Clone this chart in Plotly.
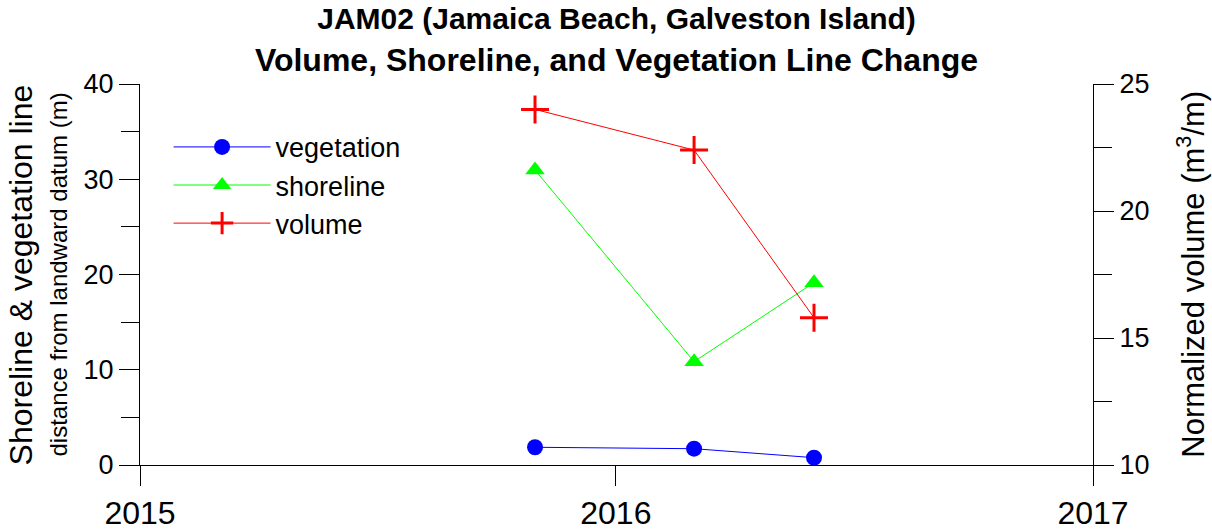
import plotly.graph_objects as go

# survey dates and measured values
dates = ["2015-10-31", "2016-03-01", "2016-06-01"]
vegetation = [1.86, 1.71, 0.77]
shoreline = [30.97, 10.85, 19.14]
volume = [24.0, 22.4, 15.8]

year_ticks = ["2015-01-01", "2016-01-01", "2017-01-01"]
year_labels = ["2015", "2016", "2017"]

FONT = "Liberation Sans, Arial, sans-serif"

fig = go.Figure()

fig.add_trace(
    go.Scatter(
        x=dates,
        y=vegetation,
        name="vegetation",
        mode="lines+markers",
        line=dict(color="#0000FF", width=1),
        marker=dict(symbol="circle", size=16, color="#0000FF"),
    )
)

fig.add_trace(
    go.Scatter(
        x=dates,
        y=shoreline,
        name="shoreline",
        mode="lines+markers",
        line=dict(color="#00FF00", width=1),
        marker=dict(symbol="triangle-up", size=17, color="#00FF00"),
    )
)

fig.add_trace(
    go.Scatter(
        x=dates,
        y=volume,
        name="volume",
        yaxis="y2",
        mode="lines+markers",
        line=dict(color="#FF0000", width=1),
        marker=dict(symbol="cross-thin", size=20, line=dict(color="#FF0000", width=3)),
    )
)

fig.update_layout(
    width=1212,
    height=531,
    plot_bgcolor="white",
    paper_bgcolor="white",
    font=dict(family=FONT, color="black"),
    margin=dict(l=140, r=119, t=84, b=66, autoexpand=False),
    title=dict(
        text=(
            "<b><span style='font-size:30px'>JAM02 (Jamaica Beach, Galveston Island)</span>"
            "<br>Volume, Shoreline, and Vegetation Line Change</b>"
        ),
        font=dict(size=32, family=FONT),
        x=0.5,
        xref="paper",
        xanchor="center",
        y=0.945,
        yref="container",
        yanchor="top",
    ),
    xaxis=dict(
        type="date",
        range=[year_ticks[0], year_ticks[-1]],
        tickvals=year_ticks,
        ticktext=year_labels,
        ticks="outside",
        ticklen=20,
        tickcolor="black",
        showline=True,
        linecolor="black",
        linewidth=1,
        showgrid=False,
        zeroline=False,
        automargin=False,
        tickfont=dict(size=32),
    ),
    yaxis=dict(
        range=[0, 40],
        dtick=10,
        ticks="outside",
        ticklen=20,
        tickcolor="black",
        minor=dict(dtick=5, ticks="outside", ticklen=18, tickcolor="black"),
        showline=True,
        linecolor="black",
        showgrid=False,
        zeroline=False,
        automargin=False,
        tickfont=dict(size=27),
    ),
    yaxis2=dict(
        overlaying="y",
        side="right",
        range=[10, 25],
        dtick=5,
        ticks="outside",
        ticklen=20,
        tickcolor="black",
        minor=dict(dtick=2.5, ticks="outside", ticklen=18, tickcolor="black"),
        showline=True,
        linecolor="black",
        showgrid=False,
        zeroline=False,
        automargin=False,
        tickfont=dict(size=27),
    ),
    legend=dict(
        x=0.03,
        y=0.898,
        xanchor="left",
        yanchor="top",
        font=dict(size=27),
        itemwidth=97,
        bgcolor="rgba(0,0,0,0)",
    ),
    annotations=[
        dict(
            text="Shoreline & vegetation line",
            xref="paper", yref="paper",
            x=-0.125, y=0.5,
            xanchor="center", yanchor="middle",
            textangle=-90,
            showarrow=False,
            font=dict(size=32),
        ),
        dict(
            text="distance from landward datum (m)",
            xref="paper", yref="paper",
            x=-0.085, y=0.5,
            xanchor="center", yanchor="middle",
            textangle=-90,
            showarrow=False,
            font=dict(size=24),
        ),
        dict(
            text="Normalized volume (m<sup>3</sup>/m)",
            xref="paper", yref="paper",
            x=1.102, y=0.5,
            xanchor="center", yanchor="middle",
            textangle=-90,
            showarrow=False,
            font=dict(size=31),
        ),
    ],
)

fig.write_html(
    "out.html",
    config={"displayModeBar": False},
    post_script="document.body.style.margin='0';",
)
